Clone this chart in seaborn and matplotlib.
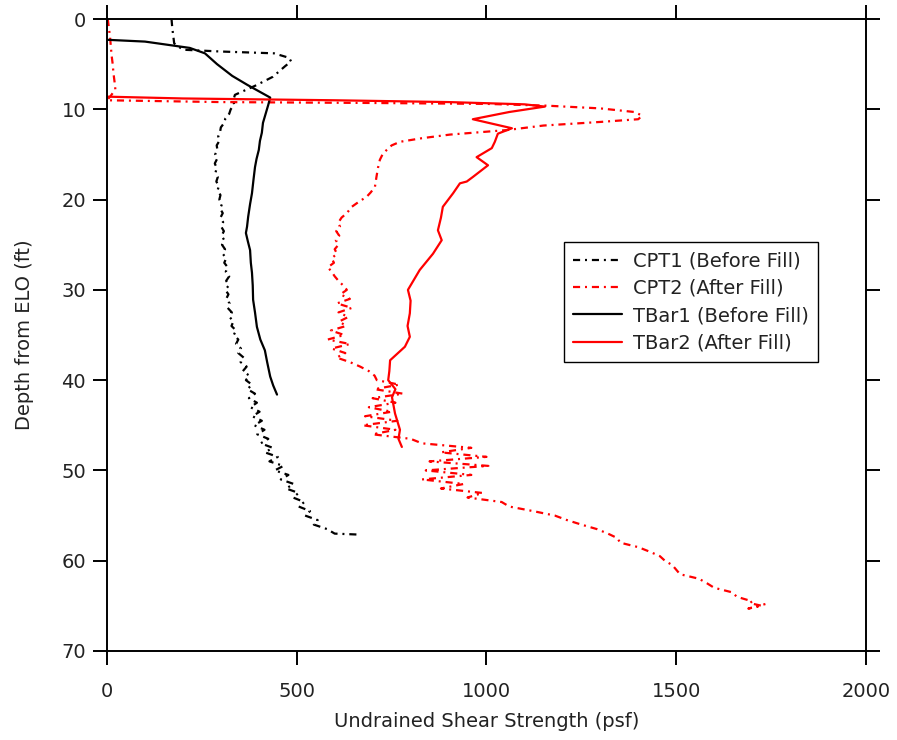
import matplotlib
matplotlib.use("Agg")
import matplotlib.pyplot as plt
import seaborn as sns
import pandas as pd

# ---------------- data ----------------
cpt1_depth = [0, 1, 2, 2.7, 3.4, 3.6, 3.8, 4.3, 4.7, 5.2, 6.4, 7.4, 8.4,
              9.0, 9.5, 10.0, 10.5, 11.0, 11.5, 12.0, 12.5, 13.0, 13.5, 14.0, 14.5,
              15.0, 15.5, 16.0, 16.5, 17.0, 17.5, 18.0, 18.5, 19.0, 19.5, 20.0, 20.5,
              21.0, 21.5, 22.0, 22.5, 23.0, 23.5, 24.0, 24.5, 25.0, 25.5, 26.0, 26.5,
              27.0, 27.5, 28.0, 28.5, 29.0, 29.5, 30.0, 30.5, 31.0, 31.5, 32.0, 32.5,
              33.0, 33.5, 34.0, 34.5, 35.0, 35.5, 36.0, 36.5, 37.0, 37.5, 38.0, 38.5,
              39.0, 39.5, 40.0, 40.5, 41.0, 41.5, 42.0, 42.5, 43.0, 43.5, 44.0, 44.5,
              45.0, 45.5, 46.0, 46.5, 47.0, 47.5, 48.0, 48.5, 49.0, 49.5, 50.0, 50.5,
              51.0, 51.5, 52.0, 52.5, 53.0, 53.5, 54.0, 54.5, 55.0, 55.5, 56.0, 56.5,
              57.0, 57.1]
cpt1_su = [170, 172, 175, 177, 200, 300, 440, 480, 485, 470, 437, 390, 337,
           333, 335, 326, 322, 312, 309, 300, 298, 293, 296, 289, 291,
           285, 290, 284, 289, 286, 292, 288, 295, 291, 299, 296, 303,
           298, 305, 299, 306, 301, 308, 302, 309, 303, 311, 305, 314,
           309, 318, 313, 322, 314, 321, 312, 320, 314, 323, 318, 329,
           323, 333, 328, 340, 334, 346, 340, 353, 346, 360, 352, 368,
           358, 375, 366, 382, 370, 390, 374, 395, 378, 402, 383, 408,
           388, 415, 396, 425, 405, 437, 416, 450, 428, 465, 442, 478,
           458, 492, 472, 505, 490, 520, 505, 535, 522, 555, 545, 580,
           600, 659]

cpt2_depth = [0, 1, 2, 3, 4, 5, 6, 7, 7.8, 8.5, 9.0, 9.2, 9.3, 9.4, 9.6, 9.9,
              10.3, 10.7, 11.1, 11.4, 11.8, 12.3, 12.8, 13.2, 13.6, 14.0, 14.5,
              15.0, 15.6, 16.5, 17.5, 18.6, 19.2, 19.7, 20.2, 20.8, 21.5, 22.0,
              22.6, 23.0, 23.5, 24.0, 24.5, 25.0, 25.5, 26.0, 26.5, 27.0, 27.5,
              28.0, 28.5, 29.0, 29.5, 30.0, 30.5, 31.0, 31.5, 32.0, 32.5, 33.0,
              33.5, 34.0, 34.5, 35.0, 35.5, 36.0, 36.5, 37.0, 37.5, 38.0, 38.5,
              39.0, 39.5, 40.0, 40.5, 41.0, 41.5, 42.0, 42.5, 43.0, 43.5, 44.0,
              44.5, 45.0, 45.5, 46.0, 46.5, 47.0, 47.5, 48.0, 48.5, 49.0, 49.5,
              50.0, 50.5, 51.0, 51.5, 52.0, 52.5, 53.0, 53.5, 54.0, 54.5, 55.0,
              55.5, 56.0, 56.5, 57.0, 57.5, 58.0, 58.5, 59.0, 59.5, 60.0, 60.5,
              61.0, 61.5, 62.0, 62.5, 63.0, 63.5, 64.0, 64.5, 64.7, 65.0, 65.3, 64.8]
cpt2_su = [2, 5, 8, 10, 12, 15, 17, 20, 22, 10, 0, 300, 700, 1000, 1160, 1300,
           1390, 1410, 1400, 1300, 1150, 1054, 904, 830, 772, 750, 737,
           726, 719, 714, 710, 706, 695, 684, 665, 645, 632, 618,
           609, 614, 604, 612, 603, 610, 600, 606, 592, 598, 582,
           592, 600, 610, 622, 632, 615, 640, 606, 645, 610, 636,
           612, 630, 590, 625, 582, 640, 592, 628, 605, 640, 667,
           690, 705, 711, 770, 705, 780, 700, 760, 690, 750, 680,
           765, 674, 760, 700, 800, 830, 960, 880, 1000, 850, 1005,
           840, 960, 830, 940, 880, 990, 950, 1040, 1060, 1122, 1180,
           1212, 1250, 1291, 1320, 1345, 1352, 1400, 1430, 1457, 1470, 1490,
           1500, 1510, 1560, 1581, 1600, 1647, 1660, 1700, 1694, 1726, 1690, 1735]

tbar1_depth = [2.3, 2.5, 3.2, 3.8, 5.0, 6.3, 7.3, 8.7, 9.5, 10.5, 11.5, 12.6,
               13.5, 14.5, 15.5, 16.4, 17.8, 19.3, 20.5, 21.9, 23.0, 23.7, 24.6,
               25.6, 27.0, 28.1, 29.5, 31.1, 32.5, 34.1, 35.5, 36.7, 38.0, 39.6,
               40.6, 41.6]
tbar1_su = [0, 100, 218, 258, 290, 330, 370, 430, 425, 418, 411, 408,
            403, 400, 394, 390, 386, 382, 377, 372, 369, 366, 371,
            377, 379, 382, 384, 385, 390, 395, 404, 416, 422, 430,
            438, 448]

tbar2_depth = [8.6, 8.8, 9.0, 9.2, 9.45, 9.7, 10.3, 11.1, 12.1, 12.7, 13.6, 14.3,
               15.3, 16.2, 17.5, 18.0, 18.2, 19.3, 20.8, 22.0, 23.4, 24.5, 26.0,
               27.8, 30.0, 31.2, 32.6, 34.0, 35.2, 36.3, 37.8, 39.0, 40.0, 41.0,
               41.9, 43.7, 45.5, 46.5, 47.4]
tbar2_su = [0, 200, 600, 900, 1100, 1154, 1060, 964, 1067, 1030, 1022, 1014,
            974, 1004, 964, 948, 930, 912, 885, 880, 872, 882, 859,
            824, 793, 800, 798, 792, 798, 785, 746, 744, 741, 760,
            751, 759, 772, 768, 777]

labels = ["CPT1 (Before Fill)", "CPT2 (After Fill)",
          "TBar1 (Before Fill)", "TBar2 (After Fill)"]
x_ticks = [0, 500, 1000, 1500, 2000]
y_ticks = [0, 10, 20, 30, 40, 50, 60, 70]

# ---------------- styling ----------------
sns.set_style("ticks")
plt.rcParams["font.family"] = ["DejaVu Sans"]
plt.rcParams["text.color"] = "#222222"
plt.rcParams["axes.labelcolor"] = "#222222"

fig = plt.figure(figsize=(8.97, 7.40), dpi=100)
ax = fig.add_axes([0.1193, 0.1203, 0.8461, 0.8540])

dashdot = (0, (3.2, 2.2, 0.9, 2.2))
lw = 1.6
sns.lineplot(x=cpt1_su, y=cpt1_depth, sort=False, estimator=None, ax=ax,
             color="black", linestyle=dashdot, linewidth=lw, label=labels[0])
sns.lineplot(x=cpt2_su, y=cpt2_depth, sort=False, estimator=None, ax=ax,
             color="#ff0000", linestyle=dashdot, linewidth=lw, label=labels[1])
sns.lineplot(x=tbar1_su, y=tbar1_depth, sort=False, estimator=None, ax=ax,
             color="black", linestyle="-", linewidth=lw, label=labels[2])
sns.lineplot(x=tbar2_su, y=tbar2_depth, sort=False, estimator=None, ax=ax,
             color="#ff0000", linestyle="-", linewidth=lw, label=labels[3])

ax.set_xlim(0, 2000)
ax.set_ylim(70, 0)
ax.set_xticks(x_ticks)
ax.set_yticks(y_ticks)

for s in ax.spines.values():
    s.set_visible(True)
    s.set_linewidth(1.4)
    s.set_color("black")

ax.tick_params(axis="both", which="major", direction="out", length=10, width=1.4,
               labelsize=14, color="black", labelcolor="#222222",
               top=True, right=True, labeltop=False, labelright=False)
ax.tick_params(axis="x", pad=12)
ax.tick_params(axis="y", pad=5)

ax.set_xlabel("Undrained Shear Strength (psf)", fontsize=14, labelpad=8)
ax.set_ylabel("Depth from ELO (ft)", fontsize=14, labelpad=20)

leg = ax.legend(loc="upper right", bbox_to_anchor=(0.937, 0.647),
                borderaxespad=0, fontsize=14, frameon=True, fancybox=False,
                handlelength=2.5, labelspacing=0.42, borderpad=0.5,
                handletextpad=0.55)
leg.get_frame().set_edgecolor("black")
leg.get_frame().set_linewidth(1.0)
leg.get_frame().set_alpha(1)

fig.savefig("out.png", dpi=100)
